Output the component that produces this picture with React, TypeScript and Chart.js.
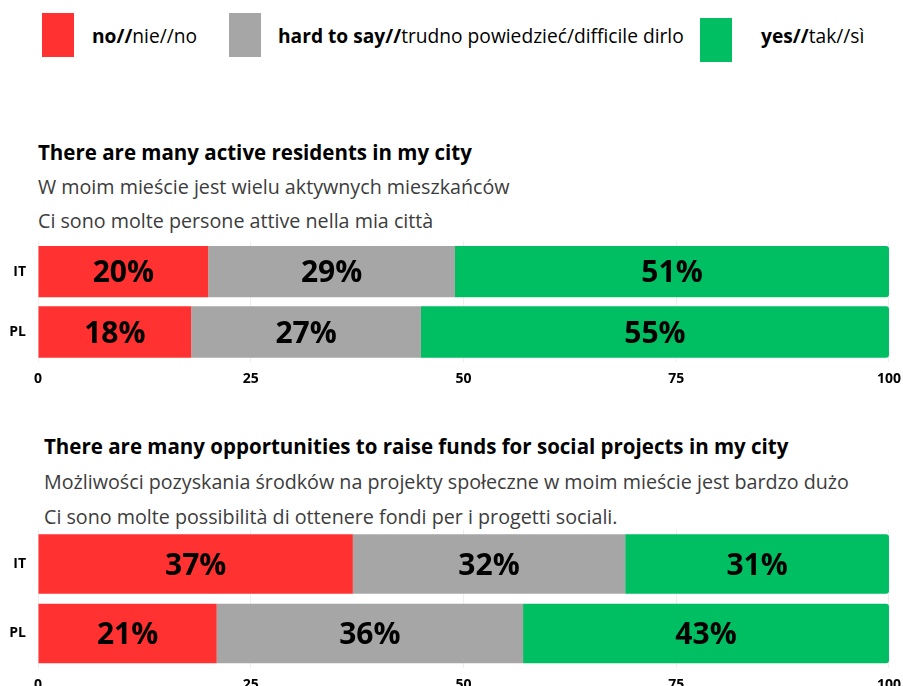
import React, { useEffect, useRef } from 'react';
import { Chart, registerables } from 'chart.js';

Chart.register(...registerables);

const COUNTRIES = ['IT', 'PL'];
const SERIES_BOLD = ['no//', 'hard to say//', 'yes//'];
const SERIES_REST = ['nie//no', 'trudno powiedzieć/difficile dirlo', 'tak//sì'];
const COLORS = ['#ff3131', '#a6a6a6', '#00bf63'];

const Q1_NO = [20, 18];
const Q1_HARD = [29, 27];
const Q1_YES = [51, 55];

const Q2_NO = [37, 21];
const Q2_HARD = [32, 36];
const Q2_YES = [31, 43];

const X_MIN = 0;
const X_MAX = 100;
const X_STEP = 25;

const Q1_TITLE = [
  'There are many active residents in my city',
  'W moim mieście jest wielu aktywnych mieszkańców',
  'Ci sono molte persone attive nella mia città',
];
const Q2_TITLE = [
  'There are many opportunities to raise funds for social projects in my city',
  'Możliwości pozyskania środków na projekty społeczne w moim mieście jest bardzo dużo',
  'Ci sono molte possibilità di ottenere fondi per i progetti sociali.',
];

const FONT = '"Open Sans", "Noto Sans", sans-serif';

const segLabels = {
  id: 'segLabels',
  afterDatasetsDraw(chart: any) {
    const ctx = chart.ctx;
    ctx.save();
    ctx.font = `bold 30px ${FONT}`;
    ctx.fillStyle = '#000';
    ctx.textAlign = 'center';
    ctx.textBaseline = 'middle';
    chart.data.datasets.forEach((ds: any, i: number) => {
      const meta = chart.getDatasetMeta(i);
      meta.data.forEach((el: any, j: number) => {
        const p = el.getProps(['x', 'y', 'base'], true);
        ctx.fillText(ds.data[j] + '%', (p.x + p.base) / 2, p.y + 2);
      });
    });
    ctx.restore();
  },
};

function BarChart({ no, hard, yes, width, height, barPct }: any) {
  const ref = useRef<HTMLCanvasElement>(null);
  useEffect(() => {
    const values = [no, hard, yes];
    const chart = new Chart(ref.current!, {
      type: 'bar',
      data: {
        labels: COUNTRIES,
        datasets: values.map((v, i) => ({
          label: SERIES_BOLD[i] + SERIES_REST[i],
          data: v,
          backgroundColor: COLORS[i],
          borderWidth: 0,
          borderSkipped: false,
          borderRadius: i === 2 ? { topLeft: 0, bottomLeft: 0, topRight: 3, bottomRight: 3 } : 0,
          categoryPercentage: 1,
          barPercentage: barPct,
        })),
      },
      options: {
        indexAxis: 'y',
        responsive: false,
        animation: false,
        layout: { padding: { top: 5, right: 14, left: 0, bottom: 0 } },
        plugins: { legend: { display: false }, tooltip: { enabled: false } },
        scales: {
          x: {
            stacked: true,
            min: X_MIN,
            max: X_MAX,
            ticks: {
              stepSize: X_STEP,
              color: '#000',
              padding: 8,
              maxRotation: 0,
              font: { family: FONT, size: 14, weight: 'bold' },
            },
            grid: { color: '#eeeeee', drawTicks: false },
            border: { display: false },
          },
          y: {
            stacked: true,
            afterFit: (s: any) => { s.width = 38; },
            ticks: {
              color: '#000',
              padding: 12,
              font: { family: FONT, size: 14, weight: 'bold' },
            },
            grid: { display: false, drawTicks: false },
            border: { display: false },
          },
        },
      },
      plugins: [segLabels],
    } as any);
    return () => chart.destroy();
  }, []);
  return <canvas ref={ref} width={width} height={height} style={{ display: 'block' }} />;
}

function Line({ text, left, cy, size, weight, color }: any) {
  const h = 30;
  return (
    <div style={{ position: 'absolute', left, top: cy - h / 2, height: h, lineHeight: h + 'px', fontSize: size, fontWeight: weight, color, whiteSpace: 'nowrap' }}>
      {text}
    </div>
  );
}

export default function App() {
  const legendRects = [
    { left: 42, top: 13 },
    { left: 229, top: 13 },
    { left: 700, top: 18 },
  ];
  const legendText = [92, 278, 761];
  return (
    <div style={{ position: 'fixed', left: 0, top: 0, width: 903, height: 686, overflow: 'hidden', background: '#fff', fontFamily: FONT }}>
      {legendRects.map((r, i) => (
        <div key={'r' + i} style={{ position: 'absolute', left: r.left, top: r.top, width: 32, height: 44, background: COLORS[i] }} />
      ))}
      {legendText.map((x, i) => (
        <div key={'t' + i} style={{ position: 'absolute', left: x, top: 21, height: 30, lineHeight: '30px', fontSize: 19.2, color: '#000', whiteSpace: 'nowrap' }}>
          <b>{SERIES_BOLD[i]}</b>{SERIES_REST[i]}
        </div>
      ))}

      <Line text={Q1_TITLE[0]} left={38} cy={152} size={20.5} weight={700} color="#000" />
      <Line text={Q1_TITLE[1]} left={38} cy={187} size={19.7} weight={400} color="#3c3c3c" />
      <Line text={Q1_TITLE[2]} left={38} cy={221} size={19.7} weight={400} color="#3c3c3c" />
      <div style={{ position: 'absolute', left: 0, top: 221 }}>
        <BarChart no={Q1_NO} hard={Q1_HARD} yes={Q1_YES} width={909} height={174} barPct={0.85} />
      </div>

      <Line text={Q2_TITLE[0]} left={44} cy={446} size={20.5} weight={700} color="#000" />
      <Line text={Q2_TITLE[1]} left={44} cy={482} size={19.7} weight={400} color="#3c3c3c" />
      <Line text={Q2_TITLE[2]} left={44} cy={517} size={19.7} weight={400} color="#3c3c3c" />
      <div style={{ position: 'absolute', left: 0, top: 509 }}>
        <BarChart no={Q2_NO} hard={Q2_HARD} yes={Q2_YES} width={909} height={192} barPct={0.857} />
      </div>
    </div>
  );
}
